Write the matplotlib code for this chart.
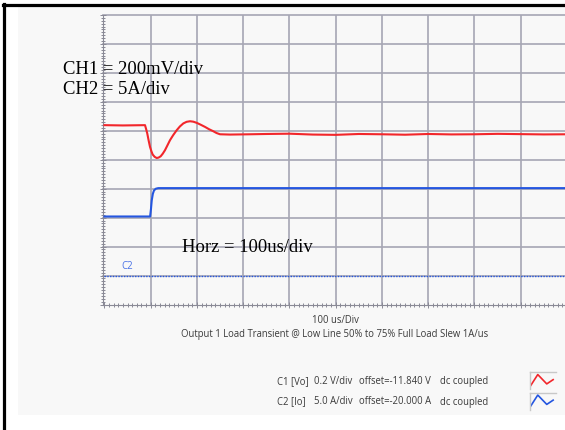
import numpy as np
import matplotlib
matplotlib.use("Agg")
import matplotlib.pyplot as plt
from matplotlib.lines import Line2D
from matplotlib.patches import Rectangle

# scope settings (from the on-screen legend)
vo_scale, vo_offset = 0.2, 11.84     # V/div, centre value
io_scale, io_offset = 5.0, 20.0      # A/div, centre value

# C1: output voltage (us, V)
t_vo = [0, 40, 87.6, 90.0, 92.5, 95.5, 98.4, 101.5, 104.2, 108.5, 112.9,
        117.0, 121.5, 126.0, 130.8, 136.0, 141.6, 148.5, 156.1, 163.0,
        170.4, 177.5, 184.9, 192.0, 199.4, 208.0, 217.3, 226.0, 235.2,
        242.0, 249.7, 271.4, 314.6, 350, 400, 450, 500, 550, 600, 650, 700,
        750, 800, 850, 900, 950, 1000]
vo = [12.079, 12.077, 12.079, 12.052, 12.021, 11.972, 11.929, 11.898,
      11.876, 11.860, 11.852, 11.855, 11.864, 11.882, 11.906, 11.939,
      11.975, 12.010, 12.044, 12.070, 12.091, 12.102, 12.106, 12.103,
      12.095, 12.082, 12.067, 12.051, 12.037, 12.025, 12.016, 12.014,
      12.016, 12.018, 12.020, 12.014, 12.012, 12.018, 12.016, 12.013,
      12.018, 12.015, 12.016, 12.019, 12.017, 12.015, 12.016]

# C2: output current (us, A)
t_io = [0, 50, 98.6, 100.5, 102.1, 104.5, 107, 111, 116.3, 200, 600, 1000]
io = [10.2, 10.2, 10.2, 11.5, 12.96, 14.1, 14.7, 15.0, 15.1, 15.1, 15.1, 15.1]

legend_rows = [
    ("C1 [Vo]", "0.2 V/div", "offset=-11.840 V", "dc coupled"),
    ("C2 [Io]", "5.0 A/div", "offset=-20.000 A", "dc coupled"),
]
icon_x = [0.0, 0.3, 0.68, 0.95]
icon_y = [0.2, 0.85, 0.3, 0.55]

red = "#f2262b"
blue = "#2456e0"
grid_c = "#a6a6b4"

W, H = 565, 430


def fx(x):
    return x / W


def fy(y):
    return 1 - y / H


fig = plt.figure(figsize=(W / 100, H / 100), dpi=100)
fig.patch.set_facecolor("white")
renderer = fig.canvas.get_renderer()

# light panel behind the scope screen
fig.add_artist(Rectangle((fx(18), fy(415)), (W - 18) / W, (415 - 7) / H,
                         transform=fig.transFigure, facecolor="#f8f8f8",
                         edgecolor="none", zorder=0))
# black frame
fig.add_artist(Line2D([fx(3), fx(W)], [fy(5), fy(5)], color="black", lw=2.3))
fig.add_artist(Line2D([fx(4), fx(4)], [fy(4), fy(H)], color="black", lw=2.3))

ax = fig.add_axes([fx(102.6), fy(304.5), (567 - 102.6) / W, (304.5 - 15) / H])
ax.set_facecolor("none")
ax.set_xlim(-4.1, 1000)
ax.set_ylim(0, 10)

for t in range(100, 1001, 100):
    ax.axvline(t, color=grid_c, lw=1.2, zorder=1)
for d in range(1, 11):
    ax.axhline(d, color=grid_c, lw=1.2, zorder=1, clip_on=False)

ax.set_xticks(np.arange(0, 1001, 100))
ax.set_xticks(np.arange(0, 1001, 10), minor=True)
ax.set_yticks(np.arange(0, 11, 1))
ax.set_yticks(np.arange(0, 10.01, 0.1), minor=True)
ax.tick_params(which="both", labelbottom=False, labelleft=False,
               color="#8a8a96", width=0.7, direction="inout")
ax.tick_params(which="major", length=4)
ax.tick_params(which="minor", length=2.5)
for s in ("top", "right"):
    ax.spines[s].set_visible(False)
for s in ("left", "bottom"):
    ax.spines[s].set_color("#8a8a96")
    ax.spines[s].set_linewidth(0.8)

vo_div = (np.array(vo) - vo_offset) / vo_scale + 5
io_div = (np.array(io) - io_offset) / io_scale + 5
ax.plot(t_vo, vo_div, color=red, lw=1.5, zorder=3)
ax.plot(t_io, io_div, color=blue, lw=1.5, zorder=3)

# C2 ground marker
zero_div = (0 - io_offset) / io_scale + 5
ax.plot([0, 1000], [zero_div, zero_div], color=blue, lw=1.0, ls=(0, (1, 1)),
        zorder=3)
ax.text(50, zero_div + 0.12, "C2", color="#4a72e6", fontsize=7,
        family="Open Sans", ha="center", va="bottom")

# annotations in serif
serif = dict(family="Liberation Serif", color="black", va="baseline")
t1 = fig.text(fx(63), fy(73.5), "CH1 = 200mV/div", fontsize=12, **serif)
size = 12 * 140 / t1.get_window_extent(renderer).width
t1.set_fontsize(size)
fig.text(fx(63), fy(94), "CH2 = 5A/div", fontsize=size, **serif)
fig.text(fx(182.5), fy(251.5), "Horz = 100us/div", fontsize=size, **serif)

# scope captions
sans = dict(family="Open Sans", color="#3a3a3a", va="center")
cap = fig.text(fx(335), fy(334.5),
               "Output 1 Load Transient @ Low Line 50% to 75% Full Load Slew 1A/us",
               ha="center", fontsize=6, **sans)
fs = 6 * 309 / cap.get_window_extent(renderer).width
cap.set_fontsize(fs)
fig.text(fx(335), fy(320.5), "100 us/Div", ha="center", fontsize=fs, **sans)

col_x = [277, 313.5, 358.6, 439.6]
for row, y, c in zip(legend_rows, [381.5, 402], [red, blue]):
    for s, x in zip(row, col_x):
        fig.text(fx(x), fy(y), s, ha="left", fontsize=fs, **sans)
    iax = fig.add_axes([fx(529.5), fy(y + 7.5), 26 / W, 17 / H])
    iax.set_facecolor("none")
    iax.plot(icon_x, icon_y, color=c, lw=1.2)
    iax.set_xlim(-0.05, 1.05)
    iax.set_ylim(0, 1)
    iax.set_xticks([])
    iax.set_yticks([])
    for s in ("bottom", "right"):
        iax.spines[s].set_visible(False)
    for s in ("top", "left"):
        iax.spines[s].set_color("#c8c8c8")
        iax.spines[s].set_linewidth(1.0)

fig.savefig("out.png", dpi=100)
